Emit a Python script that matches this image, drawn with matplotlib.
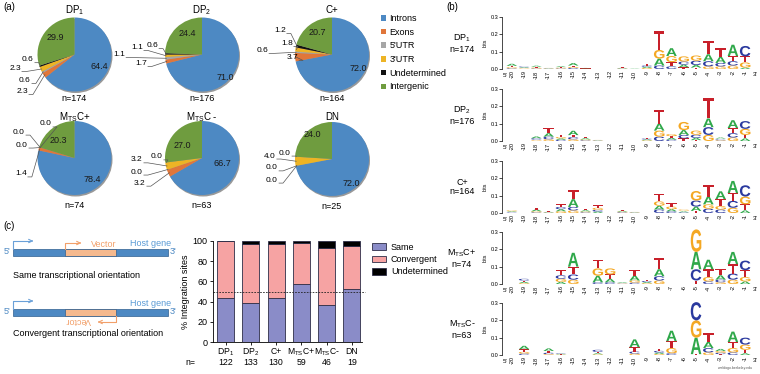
import numpy as np
import matplotlib
matplotlib.use('Agg')
import matplotlib.pyplot as plt
from matplotlib.patches import Rectangle, Circle, PathPatch, Patch
from matplotlib.textpath import TextPath
from matplotlib.font_manager import FontProperties
import matplotlib.transforms as mtransforms

plt.rcParams['font.family'] = ['Liberation Sans', 'DejaVu Sans']
plt.rcParams['mathtext.default'] = 'regular'
plt.rcParams['font.size'] = 6
plt.rcParams['axes.linewidth'] = 0.6

# ---- (a) pie data ----
pie_names = ['DP$_1$', 'DP$_2$', 'C+', 'M$_{TS}$C+', 'M$_{TS}$C -', 'DN']
pie_n = [174, 176, 164, 74, 63, 25]
introns = [64.4, 71.0, 72.0, 78.4, 66.7, 72.0]
exons = [2.3, 1.7, 3.7, 1.4, 3.2, 0.0]
utr5 = [0.6, 1.1, 0.6, 0.0, 0.0, 0.0]
utr3 = [2.3, 1.1, 1.8, 0.0, 3.2, 4.0]
undetermined = [0.6, 0.6, 1.2, 0.0, 0.0, 0.0]
intergenic = [29.9, 24.4, 20.7, 20.3, 27.0, 24.0]
pie_labels = ['Introns', 'Exons', "5'UTR", "3'UTR", 'Undetermined', 'Intergenic']

# ---- (c) bar data ----
groups = ['DP$_1$', 'DP$_2$', 'C+', 'M$_{TS}$C+', 'M$_{TS}$C-', 'DN']
group_n = [122, 133, 130, 59, 46, 19]
same = [43.4, 39.1, 43.8, 57.6, 37.0, 52.6]
convergent = [56.6, 57.9, 53.1, 40.7, 56.5, 42.1]
undet = [0.0, 3.0, 3.1, 1.7, 6.5, 5.3]

# ---- (b) logo data, positions -20 .. -1 (bits) ----
positions = list(range(-20, 0))
logo_dp1 = {
    'A': [.012, .004, .006, .002, .005, .014, .003, 0, 0, .003, .002, .007, .04, .045, .015, .015, .04, .035, .065, .008],
    'C': [.004, .004, .003, .002, .003, .006, .001, 0, 0, .002, 0, .007, .02, .015, .018, .025, .03, .02, .025, .06],
    'G': [.006, .003, .005, .002, .004, .006, .001, 0, 0, .002, 0, .006, .05, .035, .03, .03, .015, .015, .02, .03],
    'T': [.008, .003, .005, .002, .004, .008, .001, 0, 0, .004, 0, .01, .11, .025, .01, .008, .075, .05, .03, .035],
}
logo_dp2 = {
    'A': [0, 0, .01, .02, .008, .025, .007, .002, 0, 0, 0, .005, .04, .01, .028, .013, .05, .006, .045, .015],
    'C': [0, 0, .008, .015, .007, .012, .004, .002, 0, 0, 0, .005, .025, .008, .02, .018, .045, .005, .025, .045],
    'G': [0, 0, .004, .01, .008, .01, .005, .002, 0, 0, 0, .004, .035, .012, .047, .024, .035, .004, .02, .035],
    'T': [0, 0, .004, .03, .012, .012, .008, .002, 0, 0, 0, .006, .08, .01, .015, .005, .12, .005, .03, .02],
}
logo_cpos = {
    'A': [.004, 0, .01, .003, .012, .045, .007, .008, 0, .005, .002, 0, .022, .012, .005, .025, .045, .045, .07, .015],
    'C': [.003, 0, .004, .002, .013, .02, .004, .01, 0, .004, .002, 0, .02, .01, .004, .035, .025, .02, .04, .065],
    'G': [.005, 0, .006, .002, .01, .015, .005, .012, 0, .004, .002, 0, .025, .015, .006, .055, .025, .02, .03, .045],
    'T': [.003, 0, .01, .003, .015, .05, .008, .015, 0, .005, .002, 0, .043, .02, .005, .012, .065, .04, .045, .035],
}
logo_mtsc_pos = {
    'A': [0, .007, 0, 0, .012, .08, 0, .038, .02, .004, .028, .006, .04, 0, 0, .1, .055, .025, .07, .015],
    'C': [0, .01, 0, 0, .02, .03, 0, .01, .01, .002, .008, .006, .025, 0, 0, .065, .015, .015, .035, .055],
    'G': [0, .005, 0, 0, .018, .025, 0, .042, .035, .002, .012, .005, .02, 0, 0, .13, .025, .01, .025, .025],
    'T': [0, .008, 0, 0, .03, .045, 0, .05, .025, .002, .03, .008, .065, 0, 0, .02, .045, .035, .055, .04],
}
logo_mtsc_neg = {
    'A': [0, .02, 0, .015, .003, 0, 0, .006, 0, 0, .045, 0, .008, .06, 0, .095, .035, .012, .06, .01],
    'C': [0, .008, 0, .008, .003, 0, 0, .012, 0, 0, .012, 0, .01, .01, 0, .105, .025, .008, .015, .04],
    'G': [0, .01, 0, .005, .002, 0, 0, .004, 0, 0, .008, 0, .006, .03, 0, .1, .015, .01, .025, .03],
    'T': [0, .015, 0, .01, .002, 0, 0, .008, 0, 0, .025, 0, .01, .04, 0, .005, .05, .005, .035, .02],
}
logos = [logo_dp1, logo_dp2, logo_cpos, logo_mtsc_pos, logo_mtsc_neg]
logo_names = ['DP$_1$\nn=174', 'DP$_2$\nn=176', 'C+\nn=164', 'M$_{TS}$C+\nn=74', 'M$_{TS}$C-\nn=63']

W, H = 760, 374
fig = plt.figure(figsize=(W / 100, H / 100), dpi=100)
base = fig.add_axes([0, 0, 1, 1])
base.axis('off')


def Y(y):
    return H - y


# ---------------- (a) pies ----------------
pie_colors = ['#4d89c3', '#e0763a', '#a6a6a6', '#edb425', '#111111', '#6f9c3f']
centers = [(74.5, 54.5), (202, 54.5), (332, 54.5), (74.5, 158), (202, 158), (332, 159)]
R = 37
inner_pos = [[(0.68, -0.32), (-0.53, 0.46)], [(0.62, -0.62), (-0.41, 0.57)],
             [(0.70, -0.38), (-0.41, 0.59)], [(0.47, -0.59), (-0.45, 0.46)],
             [(0.54, -0.14), (-0.54, 0.35)], [(0.51, -0.65), (-0.54, 0.65)]]
small_pos = [[(-1.42, -1.0), (-1.34, -0.70), (-1.61, -0.38), (-1.26, -0.14)],
             [(-1.65, -0.24), (-2.24, 0.0), (-1.76, 0.19), (-1.35, 0.24)],
             [(-1.08, -0.08), (-1.89, 0.11), (-1.22, 0.30), (-1.41, 0.65)],
             [(-1.45, -0.43), (-1.42, 0.35), (-1.5, 0.70), (-0.77, 0.92)],
             [(-1.68, -0.68), (-1.76, -0.38), (-1.76, -0.05), (-1.22, 0.03)],
             [(-1.62, -0.57), (-1.62, -0.24), (-1.68, 0.08), (-1.27, 0.16)]]
title_y = [10, 10, 10, 117, 117, 117]
n_y = [98, 98, 98, 205, 205, 206]

for i in range(6):
    vals = [introns[i], exons[i], utr5[i], utr3[i], undetermined[i], intergenic[i]]
    cx, cy = centers[i]
    base.add_patch(Circle((cx + 1, Y(cy) - 1.5), R, color='#555555', alpha=0.6, lw=0, zorder=1))
    wedges, _ = base.pie(vals, colors=pie_colors, startangle=90, counterclock=False,
                         center=(cx, Y(cy)), radius=R, frame=True,
                         wedgeprops=dict(linewidth=0, zorder=2))
    for (dx, dy), k in zip(inner_pos[i], [0, 5]):
        base.text(cx + dx * R, Y(cy) + dy * R, '%.1f' % vals[k], fontsize=6.5,
                  ha='center', va='center', color='#1a1a1a', zorder=5)
    for (dx, dy), k in zip(small_pos[i], [1, 2, 3, 4]):
        tx, ty = cx + dx * R, Y(cy) + dy * R
        base.text(tx, ty, '%.1f' % vals[k], fontsize=6, ha='center', va='center', zorder=5)
        w = wedges[k]
        ang = np.deg2rad((w.theta1 + w.theta2) / 2)
        ex, ey = cx + 0.97 * R * np.cos(ang), Y(cy) + 0.97 * R * np.sin(ang)
        base.plot([tx + 7, tx + 11, ex], [ty - 3, ty - 3, ey], color='#555555', lw=0.5, zorder=4)
    base.text(cx, Y(title_y[i]), pie_names[i], fontsize=7, ha='center', va='center')
    base.text(cx, Y(n_y[i]), 'n=%d' % pie_n[i], fontsize=6.5, ha='center', va='center')

pie_handles = [Patch(facecolor=c, edgecolor='none') for c in pie_colors]
fig.legend(pie_handles, pie_labels, loc='upper left', bbox_to_anchor=(381 / W, 1 - 14 / H),
           frameon=False, fontsize=6.5, handlelength=0.55, handleheight=0.55,
           handletextpad=0.4, labelspacing=0.52, borderaxespad=0, borderpad=0)

# ---------------- (c) diagrams ----------------
blue = '#4d89c3'
orange = '#f2a06a'
for yb, conv in [(249, False), (309, True)]:
    base.add_patch(Rectangle((13, Y(yb + 6.5)), 155, 6.5, fc=blue, ec='#2f5f90', lw=0.5))
    base.add_patch(Rectangle((65, Y(yb + 6.5)), 51, 6.5, fc='#f5b98e', ec='#2f5f90', lw=0.5))
    base.text(10, Y(yb + 3), "5'", color=blue, ha='right', va='center', fontsize=6.5)
    base.text(170, Y(yb + 3), "3'", color=blue, ha='left', va='center', fontsize=6.5)
    base.plot([13, 13, 30], [Y(yb), Y(yb - 8), Y(yb - 8)], color='#6aa0d8', lw=0.8)
    base.annotate('', xy=(36, Y(yb - 8)), xytext=(29, Y(yb - 8)),
                  arrowprops=dict(arrowstyle='->', color='#6aa0d8', lw=0.8))
    base.text(130, Y(yb - 6), 'Host gene', color='#5b9bd5', ha='left', va='center', fontsize=6.5)
    if not conv:
        base.plot([65, 65, 78], [Y(yb), Y(yb - 6), Y(yb - 6)], color=orange, lw=0.8)
        base.annotate('', xy=(84, Y(yb - 6)), xytext=(77, Y(yb - 6)),
                      arrowprops=dict(arrowstyle='->', color=orange, lw=0.8))
        base.text(91, Y(yb - 5), 'Vector', color=orange, ha='left', va='center', fontsize=6.5)
    else:
        base.plot([116, 116, 101], [Y(yb + 6.5), Y(yb + 13), Y(yb + 13)], color=orange, lw=0.8)
        base.annotate('', xy=(95, Y(yb + 13)), xytext=(102, Y(yb + 13)),
                      arrowprops=dict(arrowstyle='->', color=orange, lw=0.8))
        base.text(78, Y(yb + 12), 'Vector', color=orange, ha='center', va='center',
                  fontsize=6.5, rotation=180)
base.text(13, Y(276), 'Same transcriptional orientation', ha='left', va='center', fontsize=6.5)
base.text(13, Y(334), 'Convergent transcriptional orientation', ha='left', va='center', fontsize=6.5)

base.text(3, Y(7), '(a)', fontsize=7, ha='left', va='center')
base.text(446, Y(7), '(b)', fontsize=7, ha='left', va='center')
base.text(3, Y(226), '(c)', fontsize=7, ha='left', va='center')
base.set_xlim(0, W)
base.set_ylim(0, H)

# ---------------- (c) stacked bars ----------------
bx = fig.add_axes([213 / W, 1 - 342 / H, 149 / W, 101 / H])
x = np.arange(len(groups))
ec = '#2e2e48'
bx.bar(x, same, 0.68, color='#8a8cc8', edgecolor=ec, lw=0.6, label='Same')
bx.bar(x, convergent, 0.68, bottom=same, color='#f6a3a3', edgecolor=ec, lw=0.6, label='Convergent')
bx.bar(x, undet, 0.68, bottom=np.add(same, convergent), color='black', edgecolor=ec, lw=0.6,
       label='Undetermined')
bx.axhline(50, color='#222222', lw=0.6, ls=(0, (2, 1.5)), xmax=1.02, clip_on=False)
bx.set_xlim(-0.5, 5.4)
bx.set_ylim(0, 100)
bx.set_yticks(range(0, 101, 20))
bx.set_xticks(x)
bx.set_xticklabels(groups)
bx.spines[['top', 'right']].set_visible(False)
bx.tick_params(labelsize=6.5, length=2.5, width=0.6, pad=1.5)
bx.tick_params(axis='x', labelsize=6.2, pad=1)
bx.set_ylabel('% Integration sites', fontsize=6.5, labelpad=2)
tr = bx.get_xaxis_transform()
bx.text(-1.4, -0.205, 'n=', transform=tr, ha='center', va='center', fontsize=6.3)
for xi, n in zip(x, group_n):
    bx.text(xi, -0.205, str(n), transform=tr, ha='center', va='center', fontsize=6.3)
bx.legend(loc='upper left', bbox_to_anchor=(372 / W, 1 - 243 / H), bbox_transform=fig.transFigure,
          frameon=False, fontsize=6.5, handlelength=1.5, handleheight=0.8, handletextpad=0.6,
          labelspacing=0.35, borderaxespad=0, borderpad=0)

# ---------------- (b) sequence logos ----------------
letter_colors = {'A': '#2fa84a', 'C': '#2b3a9f', 'G': '#f4a824', 'T': '#c8202a'}
fp = FontProperties(family='Liberation Sans', weight='bold')
glyphs = {c: TextPath((0, 0), c, size=1, prop=fp) for c in 'ACGT'}


def draw_letter(ax, ch, xc, y0, w, h):
    path = glyphs[ch]
    ext = path.get_extents()
    t = (mtransforms.Affine2D().translate(-ext.x0, -ext.y0)
         .scale(w / ext.width, h / ext.height).translate(xc - w / 2, y0))
    ax.add_patch(PathPatch(t.transform_path(path), fc=letter_colors[ch], ec='none', clip_on=False))


logo_tops = [17, 89, 161, 232, 303]
for k, data in enumerate(logos):
    top = logo_tops[k]
    lx = fig.add_axes([502 / W, 1 - (top + 52) / H, 253 / W, 52 / H])
    lx.patch.set_alpha(0)
    for i in range(len(positions)):
        stack = sorted([(data[c][i], c) for c in 'ACGT'])
        y0 = 0
        for h, ch in stack:
            if h > 0:
                draw_letter(lx, ch, i + 1, y0, 0.86, h)
                y0 += h
    lx.set_xlim(0.2, 20.8)
    lx.set_ylim(0, 0.3)
    lx.spines[['top', 'right', 'bottom']].set_visible(False)
    lx.spines['left'].set_linewidth(0.5)
    lx.set_yticks([0, 0.1, 0.2, 0.3])
    lx.set_yticklabels(['0.0', '0.1', '0.2', '0.3'])
    lx.tick_params(axis='y', labelsize=4, length=2, width=0.5, pad=0.5)
    lx.set_xticks(range(1, 21))
    lx.set_xticklabels([str(p) for p in positions], rotation=90)
    lx.tick_params(axis='x', labelsize=4, length=0, pad=1)
    lx.text(-0.066, 0.5, 'bits', transform=lx.transAxes, rotation=90, fontsize=3.8,
            ha='center', va='center')
    lx.text(0.012, -0.13, "5'", transform=lx.transAxes, fontsize=4.5, ha='center', va='center')
    lx.text(1.0, -0.1, "3'", transform=lx.transAxes, fontsize=4.5, ha='center', va='center')
    lx.text(-0.158, 0.5, logo_names[k], transform=lx.transAxes, fontsize=6.5,
            ha='center', va='center', multialignment='center', linespacing=1.1)

fig.text(735 / W, 1 - 368 / H, 'weblogo.berkeley.edu', fontsize=2.5, color='#555555',
         ha='center', va='center')

fig.savefig('out.png', dpi=100)
